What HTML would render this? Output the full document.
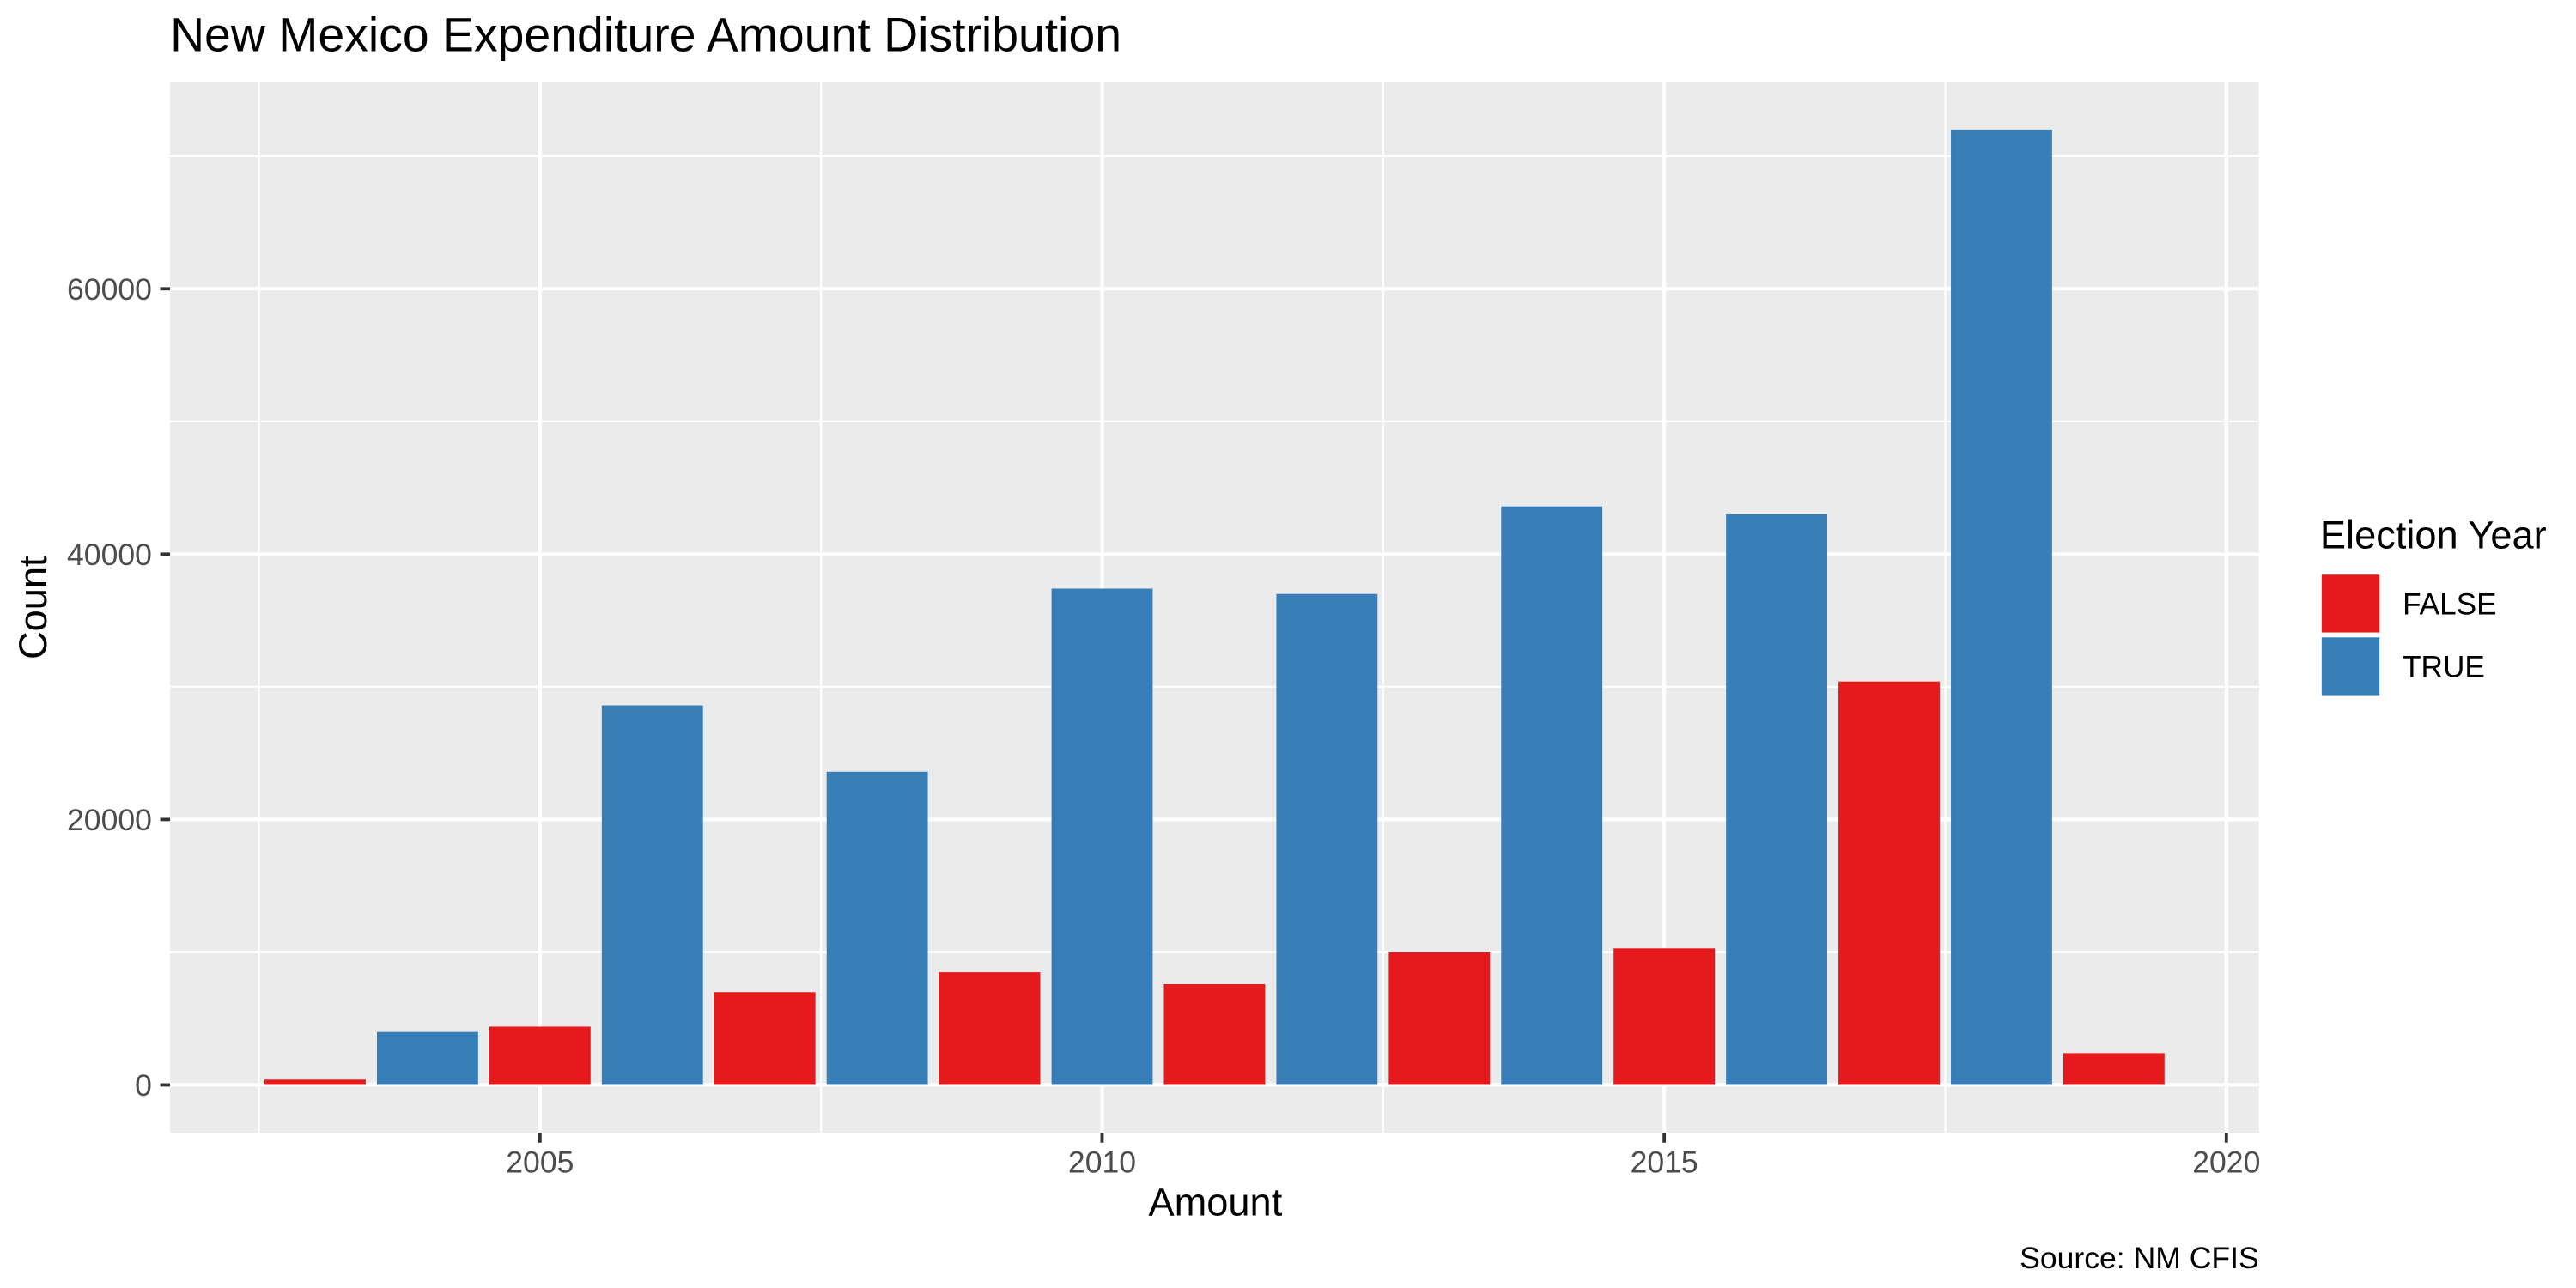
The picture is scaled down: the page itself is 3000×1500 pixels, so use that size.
<!DOCTYPE html>
<html><head><meta charset="utf-8"><style>
html,body{margin:0;padding:0;background:#fff;}
svg{display:block;font-family:"Liberation Sans",sans-serif;}
</style></head><body>
<svg id="chart" width="3000" height="1500" viewBox="0 0 1560 780" preserveAspectRatio="none" xmlns="http://www.w3.org/2000/svg">
<rect x="0" y="0" width="1560" height="780" fill="#fff"/>
<text x="103" y="31" font-size="28.8" fill="#000">New Mexico Expenditure Amount Distribution</text>
<rect x="103" y="50" width="1265" height="636" fill="#EBEBEB"/>
<g id="grid"></g>
<g id="bars"></g>
<g id="axes"></g>
<text x="736" y="736" font-size="23.5" text-anchor="middle" fill="#000">Amount</text>
<text transform="translate(28,368) rotate(-90)" font-size="23.5" text-anchor="middle" fill="#000">Count</text>
<text x="1368" y="768" font-size="18.5" text-anchor="end" fill="#000">Source: NM CFIS</text>
<g>
<text x="1405" y="332" font-size="23.5" fill="#000">Election Year</text>
<rect x="1406" y="348" width="35" height="35" fill="#E41A1C"/>
<text x="1455" y="372" font-size="18.3" fill="#000">FALSE</text>
<rect x="1406" y="386" width="35" height="35" fill="#377EB8"/>
<text x="1455" y="410" font-size="18.3" fill="#000">TRUE</text>
</g>
</svg>
<script>
const years = [2003,2004,2005,2006,2007,2008,2009,2010,2011,2012,2013,2014,2015,2016,2017,2018,2019];
const counts = [400,4000,4400,28600,7000,23600,8500,37400,7600,37000,10000,43600,10300,43000,30400,72000,2400];
const electionYear = [false,true,false,true,false,true,false,true,false,true,false,true,false,true,false,true,false];
const yTicks = [0,20000,40000,60000];
const yMinor = [10000,30000,50000,70000];
const xTicks = [2005,2010,2015,2020];
const xMinor = [2002.5,2007.5,2012.5,2017.5];
const NS='http://www.w3.org/2000/svg';
const L=103,R=1368,T=50,B=686;
const xMin=2001.71,xMax=2020.29,yMin=-3610,yMax=75540;
const xs=v=>L+(v-xMin)/(xMax-xMin)*(R-L);
const ys=v=>B-(v-yMin)/(yMax-yMin)*(B-T);
function mk(tag,attrs,parent){const e=document.createElementNS(NS,tag);for(const k in attrs)e.setAttribute(k,attrs[k]);parent.appendChild(e);return e;}
const grid=document.getElementById('grid'),bars=document.getElementById('bars'),axes=document.getElementById('axes');
yMinor.forEach(v=>{const e=mk('line',{x1:L,x2:R,y1:ys(v),y2:ys(v),stroke:'#fff','stroke-width':1.1},grid);

});
xMinor.forEach(v=>{const e=mk('line',{x1:xs(v),x2:xs(v),y1:T,y2:B,stroke:'#fff','stroke-width':1.1},grid);

});
yTicks.forEach(v=>{const e=mk('line',{x1:L,x2:R,y1:ys(v),y2:ys(v),stroke:'#fff','stroke-width':2.2},grid);


const t=mk('line',{x1:L-6,x2:L,y1:ys(v),y2:ys(v),stroke:'#333','stroke-width':2},axes);


const l=mk('text',{x:L-11,y:ys(v)+6.5,'font-size':18.5,'text-anchor':'end',fill:'#4D4D4D'},axes);l.textContent=v;

});
xTicks.forEach(v=>{const e=mk('line',{x1:xs(v),x2:xs(v),y1:T,y2:B,stroke:'#fff','stroke-width':2.2},grid);


const t=mk('line',{x1:xs(v),x2:xs(v),y1:B,y2:B+6,stroke:'#333','stroke-width':2},axes);


const l=mk('text',{x:xs(v),y:B+24,'font-size':18.5,'text-anchor':'middle',fill:'#4D4D4D'},axes);l.textContent=v;

});
years.forEach((yr,i)=>{const x0=xs(yr-0.45),x1=xs(yr+0.45);
const b=mk('rect',{x:x0,width:x1-x0,y:ys(counts[i]),height:ys(0)-ys(counts[i]),fill:electionYear[i]?'#377EB8':'#E41A1C'},bars);

});
</script>
</body></html>
